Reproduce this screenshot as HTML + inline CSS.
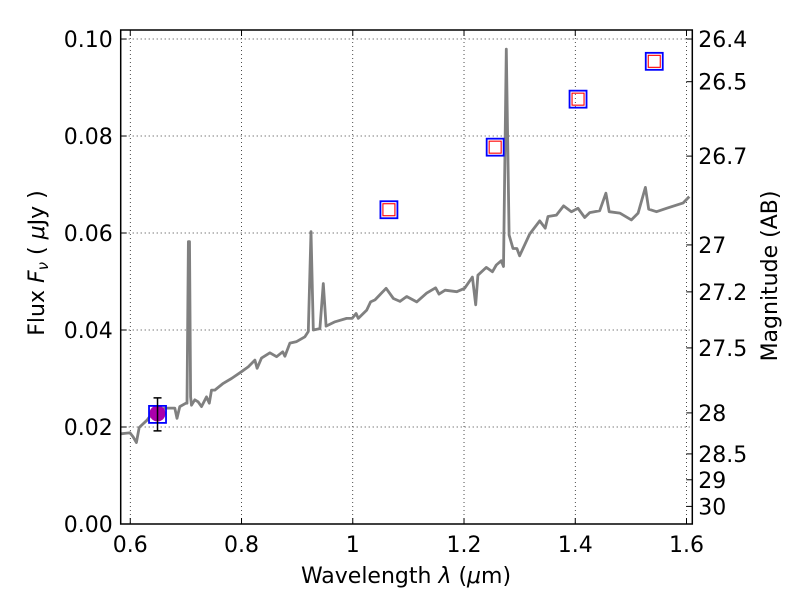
<!DOCTYPE html>
<html><head><meta charset="utf-8"><style>
body{margin:0;background:#fff}
svg text{font-family:"DejaVu Sans","Liberation Sans",sans-serif;font-size:22px;fill:#000}
</style></head><body>
<svg id="chart" width="800" height="600" xmlns="http://www.w3.org/2000/svg">
<rect width="800" height="600" fill="#fff"/>
<g id="grid"></g>
<g id="plot"></g>
<g id="axes"></g>
<text x="406" y="583" text-anchor="middle">Wavelength  <tspan font-style="italic">λ</tspan> (<tspan font-style="italic">μ</tspan>m)</text>
<text transform="translate(44,263) rotate(-90)" text-anchor="middle">Flux  <tspan font-style="italic">F</tspan><tspan font-style="italic" font-size="15" dy="4">ν</tspan><tspan dy="-4">  ( </tspan><tspan font-style="italic">μ</tspan>Jy )</text>
<text transform="translate(777,276) rotate(-90)" text-anchor="middle">Magnitude (AB)</text>
</svg>
<script>
const specWave=[0.583,0.5995,0.605,0.611,0.616,0.630,0.644,0.665,0.680,0.684,0.689,0.700,0.702,0.7045,0.7065,0.7085,0.710,0.716,0.722,0.728,0.737,0.742,0.746,0.752,0.767,0.782,0.800,0.812,0.824,0.828,0.836,0.851,0.863,0.874,0.878,0.887,0.899,0.914,0.920,0.925,0.929,0.941,0.947,0.952,0.968,0.989,0.999,1.006,1.010,1.025,1.032,1.040,1.060,1.073,1.085,1.097,1.115,1.133,1.149,1.155,1.166,1.187,1.201,1.215,1.221,1.225,1.240,1.251,1.258,1.267,1.271,1.276,1.281,1.288,1.295,1.300,1.318,1.336,1.346,1.351,1.366,1.379,1.393,1.405,1.417,1.426,1.444,1.455,1.461,1.480,1.501,1.513,1.526,1.532,1.546,1.564,1.594,1.605];
const specFlux=[0.0186,0.0188,0.0180,0.0168,0.0199,0.0214,0.0235,0.0239,0.0239,0.0218,0.0242,0.0249,0.0249,0.0582,0.0582,0.0262,0.0245,0.0256,0.0252,0.0242,0.0262,0.0249,0.0276,0.0276,0.0290,0.0300,0.0314,0.0324,0.0338,0.0321,0.0342,0.0353,0.0345,0.0355,0.0346,0.0373,0.0376,0.0386,0.0397,0.0603,0.0400,0.0403,0.0496,0.0408,0.0417,0.0424,0.0424,0.0434,0.0424,0.0441,0.0458,0.0462,0.0486,0.0465,0.0459,0.0469,0.0458,0.0476,0.0487,0.0474,0.0482,0.0479,0.0486,0.0509,0.0452,0.0513,0.0529,0.0520,0.0534,0.0543,0.0531,0.0979,0.0596,0.0568,0.0568,0.0553,0.0598,0.0625,0.0610,0.0634,0.0637,0.0656,0.0644,0.0651,0.0632,0.0642,0.0646,0.0682,0.0644,0.0641,0.0627,0.0641,0.0694,0.0649,0.0644,0.0651,0.0662,0.0675];
const photWave=[0.649,1.065,1.256,1.405,1.542];
const photFlux=[0.0226,0.0648,0.0777,0.0876,0.0954];
const obsWave=[0.649];
const obsFlux=[0.0228];
const obsErrLo=[0.0192];
const obsErrHi=[0.0260];
const xTicks=[0.6,0.8,1.0,1.2,1.4,1.6];
const xTickLabels=["0.6","0.8","1","1.2","1.4","1.6"];
const yTicks=[0,0.02,0.04,0.06,0.08,0.10];
const yTickLabels=["0.00","0.02","0.04","0.06","0.08","0.10"];
const magTicks=[26.4,26.5,26.7,27,27.2,27.5,28,28.5,29,30];
const magTickLabels=["26.4","26.5","26.7","27","27.2","27.5","28","28.5","29","30"];

const L=120.7,R=692.3,T=30,B=524;
const X0=0.5828,X1=1.6104,Y0=0,Y1=0.10186;
const sx=v=>L+(v-X0)/(X1-X0)*(R-L);
const sy=v=>B-(v-Y0)/(Y1-Y0)*(B-T);
const NS="http://www.w3.org/2000/svg";
function mk(tag,parent,attrs){const e=document.createElementNS(NS,tag);for(const k in attrs)e.setAttribute(k,attrs[k]);parent.appendChild(e);return e;}
const grid=document.getElementById('grid'),plot=document.getElementById('plot'),axes=document.getElementById('axes');

xTicks.forEach((t,i)=>{const x=sx(t);
 let g=mk('line',grid,{x1:x,x2:x,y1:T,y2:B,stroke:'#000','stroke-width':0.7,'stroke-dasharray':'1,3'});
 
 
 let a=mk('line',axes,{x1:x,x2:x,y1:B,y2:B-6,stroke:'#000','stroke-width':1});
 
 
 let b=mk('line',axes,{x1:x,x2:x,y1:T,y2:T+6,stroke:'#000','stroke-width':1});
 
 
 let tx=mk('text',axes,{x:x,y:B+28,'text-anchor':'middle'});tx.textContent=xTickLabels[i];
 
 
});
yTicks.forEach((t,i)=>{const y=sy(t);
 let g=mk('line',grid,{x1:L,x2:R,y1:y,y2:y,stroke:'#000','stroke-width':0.7,'stroke-dasharray':'1,3'});
 
 
 let a=mk('line',axes,{x1:L,x2:L+6,y1:y,y2:y,stroke:'#000','stroke-width':1});
 
 
 let tx=mk('text',axes,{x:L-8,y:y+8,'text-anchor':'end'});tx.textContent=yTickLabels[i];
 
 
});
magTicks.forEach((m,i)=>{const f=Math.pow(10,(23.9-m)/2.5);const y=sy(f);
 let a=mk('line',axes,{x1:R,x2:R-6,y1:y,y2:y,stroke:'#000','stroke-width':1});
 
 
 let tx=mk('text',axes,{x:R+6,y:y+8,'text-anchor':'start'});tx.textContent=magTickLabels[i];
 
 
});

let d=specWave.map((w,i)=>(i?'L':'M')+sx(w).toFixed(1)+','+sy(specFlux[i]).toFixed(1)).join('');
let sp=mk('path',plot,{d:d,fill:'none',stroke:'#808080','stroke-width':2.8,'stroke-linejoin':'round'});



obsWave.forEach((w,i)=>{const x=sx(w);
 let c=mk('circle',plot,{cx:x,cy:sy(obsFlux[i]),r:8,fill:'#aa00aa'});
 
 
});
photWave.forEach((w,i)=>{const x=sx(w),y=sy(photFlux[i]);
 let s=mk('rect',plot,{x:x-8.5,y:y-8.5,width:17,height:17,fill:'none',stroke:'#0000ff','stroke-width':1.8});
 
 
 if(i>0){let r=mk('rect',plot,{x:x-6,y:y-6,width:12,height:12,fill:'none',stroke:'#ff0000','stroke-width':1.1});
 
 }
});
obsWave.forEach((w,i)=>{const x=sx(w),y1=sy(obsErrHi[i]),y2=sy(obsErrLo[i]);
 let e=mk('path',plot,{d:`M${x},${y1}L${x},${y2}M${x-4},${y1}L${x+4},${y1}M${x-4},${y2}L${x+4},${y2}`,stroke:'#000','stroke-width':1.5,fill:'none'});
 
 
});
let fr=mk('rect',axes,{x:L,y:T,width:R-L,height:B-T,fill:'none',stroke:'#000','stroke-width':1.5});


</script>
</body></html>
